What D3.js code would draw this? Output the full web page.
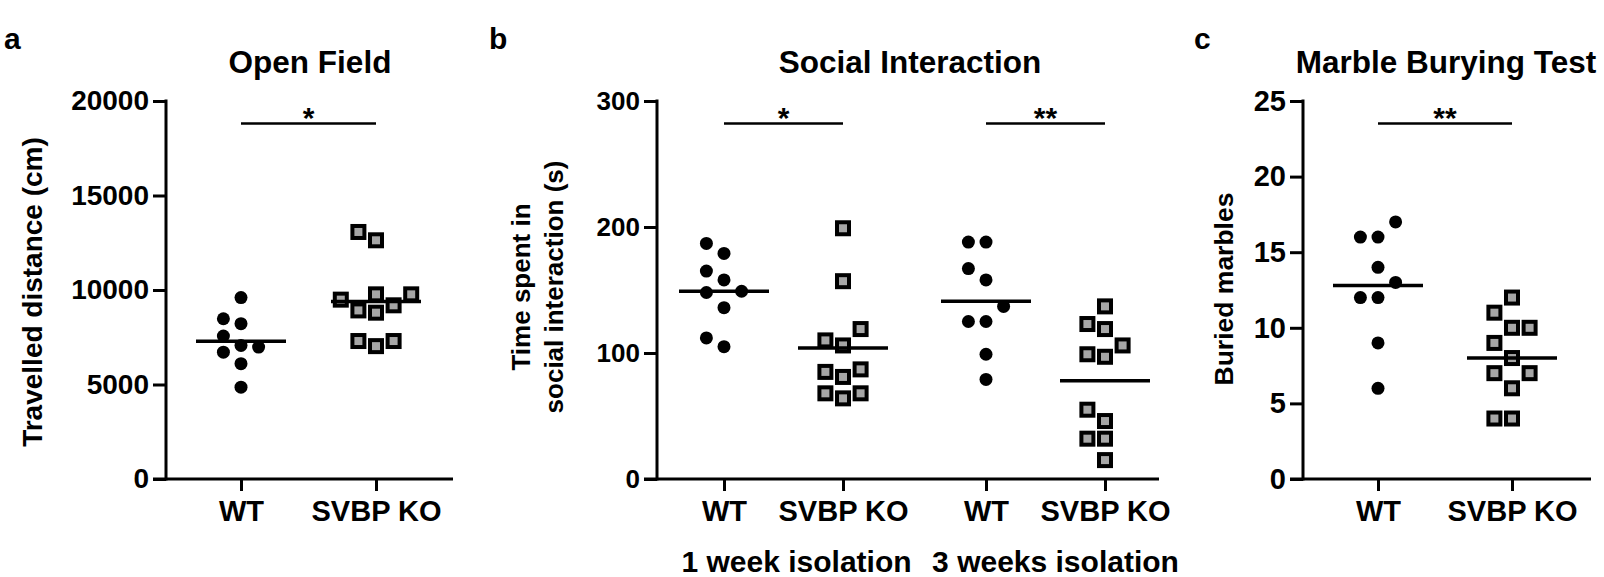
<!DOCTYPE html>
<html><head><meta charset="utf-8">
<script src="https://cdn.jsdelivr.net/npm/d3@7"></script>
<style>
body{margin:0;background:#fff}
text{font-family:"Liberation Sans",Arial,Helvetica,sans-serif;font-weight:bold;fill:#000}
</style>
</head><body>
<svg id="chart" width="1604" height="577"></svg>
<script>
// ---------------- data ----------------
const categories = ["WT", "SVBP KO"];
const titles = ["Open Field", "Social Interaction", "Marble Burying Test"];
const panelLetters = ["a", "b", "c"];

const openTicks = [0, 5000, 10000, 15000, 20000];
const openWT = [9600, 8480, 8220, 7560, 7070, 6980, 6710, 6100, 4860];
const openKO = [13070, 12630, 9770, 9770, 9490, 9190, 8920, 8800, 7300, 7300, 7030];
const openMeans = [7290, 9390];
const openSig = ["*"];

const socialTicks = [0, 100, 200, 300];
const socialCats = ["WT", "SVBP KO", "WT", "SVBP KO"];
const socialGroups = ["1 week isolation", "3 weeks isolation"];
const social1WT = [187, 179, 165, 158, 148, 149, 136, 105, 112];
const social1KO = [199, 157, 119, 106, 110, 85, 81, 87, 68, 64, 68];
const social3WT = [188, 188, 167, 158, 137, 125, 125, 99, 79];
const social3KO = [137, 119, 123, 106, 99, 97, 55, 46, 32, 32, 15];
const socialMeans = [149, 104, 141, 78];
const socialSig = ["*", "**"];

const marbleTicks = [0, 5, 10, 15, 20, 25];
const marbleWT = [17, 16, 16, 14, 13, 12, 12, 9, 6];
const marbleKO = [12, 11, 10, 10, 9, 8, 7, 7, 6, 4, 4];
const marbleMeans = [12.8, 8];
const marbleSig = ["**"];

const yLabels = [["Travelled distance (cm)"], ["Time spent in", "social interaction (s)"], ["Buried marbles"]];

// ---------------- drawing ----------------
const svg = d3.select("#chart");
svg.append("rect").attr("width", 1604).attr("height", 577).attr("fill", "#fff");

const Y0 = 479, YTOP = 101;
const GRAY = "#a6a6a6";
const STEP = 17.6;

// simple dot-plot spreading: ascending order, first free slot, fallback = least crowded
function swarm(values, y, thr, maxS) {
  const order = values.map((v, i) => i).sort((a, b) => values[a] - values[b]);
  const slots = [0];
  for (let k = 1; k <= maxS; k++) slots.push(-k, k);
  const placed = [];
  const out = new Array(values.length);
  order.forEach(i => {
    const py = y(values[i]);
    const minD = s => d3.min(placed.filter(p => p.s === s), p => Math.abs(p.py - py)) ?? Infinity;
    let s = slots.find(s => minD(s) >= thr);
    if (s === undefined) s = slots.reduce((a, b) => (minD(b) > minD(a) ? b : a));
    placed.push({ s, py });
    out[i] = s;
  });
  return out;
}

function panel(cfg) {
  const g = svg.append("g");
  const y = d3.scaleLinear().domain([0, cfg.max]).range([Y0, YTOP]);
  const x = d3.scaleOrdinal().domain(d3.range(cfg.labels.length)).range(cfg.pos);

  // y axis
  const ya = g.append("g")
    .attr("transform", `translate(${cfg.x0},0)`)
    .call(d3.axisLeft(y).tickValues(cfg.ticks).tickSize(13).tickSizeOuter(0).tickPadding(4).tickFormat(d3.format("d")));
  ya.selectAll("path,line").attr("stroke", "#000").attr("stroke-width", 3);
  ya.select(".domain").attr("d", `M0,${Y0 + 1.5}V${YTOP - 1.5}`);
  ya.selectAll("text").style("font-size", cfg.tickFont + "px").attr("fill", "#000");

  // x axis
  const xa = g.append("g")
    .attr("transform", `translate(0,${Y0})`)
    .call(d3.axisBottom(x).tickSize(12).tickSizeOuter(0).tickPadding(9).tickFormat(i => cfg.labels[i]));
  xa.select(".domain").attr("d", `M${cfg.x0 - 13},0H${cfg.x1}`);
  xa.selectAll("path,line").attr("stroke", "#000").attr("stroke-width", 3);
  xa.selectAll("text").style("font-size", "29px").attr("fill", "#000");

  // points
  cfg.groups.forEach((vals, gi) => {
    const isKO = gi % 2 === 1;
    const slots = swarm(vals, y, 17, isKO ? 2 : 1);
    const cx = x(gi);
    if (isKO) {
      g.selectAll(null).data(vals).enter().append("rect")
        .attr("x", (d, i) => cx + slots[i] * STEP - 6)
        .attr("y", d => y(d) - 6)
        .attr("width", 12).attr("height", 12)
        .attr("fill", GRAY).attr("stroke", "#000").attr("stroke-width", 4);
    } else {
      g.selectAll(null).data(vals).enter().append("circle")
        .attr("cx", (d, i) => cx + slots[i] * STEP)
        .attr("cy", d => y(d))
        .attr("r", 6.5).attr("fill", "#000");
    }
  });

  // mean lines
  g.selectAll(null).data(cfg.means).enter().append("line")
    .attr("x1", (d, i) => x(i) - 45).attr("x2", (d, i) => x(i) + 45)
    .attr("y1", d => y(d)).attr("y2", d => y(d))
    .attr("stroke", "#000").attr("stroke-width", 3.5);

  // significance bars
  cfg.sig.forEach((s, k) => {
    const a = x(2 * k), b = x(2 * k + 1);
    g.append("line").attr("x1", a).attr("x2", b).attr("y1", 123.5).attr("y2", 123.5)
      .attr("stroke", "#000").attr("stroke-width", 2.5);
    g.append("text").attr("x", (a + b) / 2).attr("y", 128).attr("text-anchor", "middle")
      .style("font-size", "30px").text(s);
  });

  // title
  g.append("text").attr("x", cfg.titleX).attr("y", 73).attr("text-anchor", "middle")
    .style("font-size", "31.5px").text(cfg.title);
  // panel letter
  g.append("text").attr("x", cfg.letterX).attr("y", 49).style("font-size", "30px").text(cfg.letter);

  // y label
  const yl = g.append("text").attr("text-anchor", "middle")
    .attr("transform", `translate(${cfg.ylabX},${cfg.ylabY}) rotate(-90)`)
    .style("font-size", cfg.ylabFont + "px");
  cfg.ylab.forEach((t, i) => {
    yl.append("tspan").attr("x", 0).attr("y", (i - (cfg.ylab.length - 1)) * cfg.ylabLine).text(t);
  });
  return { g, x, y };
}

panel({
  x0: 166, x1: 453, pos: [241, 376], max: 20000, ticks: openTicks, tickFont: 28,
  labels: categories, groups: [openWT, openKO], means: openMeans, sig: openSig,
  title: titles[0], titleX: 310, letter: panelLetters[0], letterX: 4,
  ylab: yLabels[0], ylabX: 42, ylabY: 292, ylabFont: 28, ylabLine: 0
});

const pb = panel({
  x0: 657, x1: 1159, pos: [724, 843, 986, 1105], max: 300, ticks: socialTicks, tickFont: 26,
  labels: socialCats, groups: [social1WT, social1KO, social3WT, social3KO], means: socialMeans, sig: socialSig,
  title: titles[1], titleX: 910, letter: panelLetters[1], letterX: 489,
  ylab: yLabels[1], ylabX: 562.5, ylabY: 287, ylabFont: 26, ylabLine: 32.5
});
pb.g.selectAll(null).data(socialGroups).enter().append("text")
  .attr("x", (d, i) => (pb.x(2 * i) + pb.x(2 * i + 1)) / 2 + (i === 0 ? 13 : 10))
  .attr("y", 572).attr("text-anchor", "middle")
  .style("font-size", "30px").text(d => d);

panel({
  x0: 1303, x1: 1591, pos: [1378, 1512], max: 25, ticks: marbleTicks, tickFont: 29,
  labels: categories, groups: [marbleWT, marbleKO], means: marbleMeans, sig: marbleSig,
  title: titles[2], titleX: 1446, letter: panelLetters[2], letterX: 1194,
  ylab: yLabels[2], ylabX: 1233, ylabY: 289, ylabFont: 26.5, ylabLine: 0
});
</script>
</body></html>
